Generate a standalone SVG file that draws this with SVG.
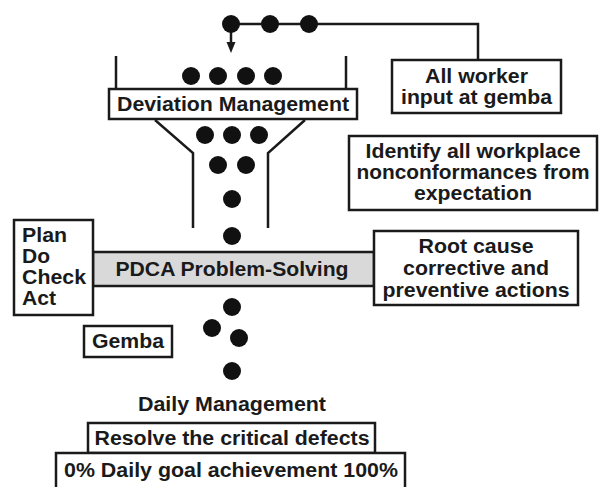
<svg xmlns="http://www.w3.org/2000/svg" width="606" height="487" viewBox="0 0 606 487">
<defs>
<style>
text{font-family:"Liberation Sans",Arial,Helvetica,sans-serif;font-weight:bold;font-size:20px;fill:#1a1a1a}
.c{text-anchor:middle}
.box{fill:#fff;stroke:#1a1a1a;stroke-width:2.5}
.bar{fill:#d9d9d9;stroke:#1a1a1a;stroke-width:2.5}
.ln{fill:none;stroke:#1a1a1a;stroke-width:2.5}
.dot{fill:#111}
</style>
</defs>
<rect width="606" height="487" fill="#fff"/>

<g id="connectors">
<polyline class="ln" points="231,24 478,24 478,60"/>
<line class="ln" x1="231" y1="24" x2="231" y2="44"/>
<path d="M226.5,42 L235.5,42 L231,53 Z" fill="#1a1a1a"/>
</g>

<g id="funnel">
<polyline class="ln" points="116,56 116,89"/>
<polyline class="ln" points="346,56 346,89"/>
<polyline class="ln" points="155,120 193,153 193,228"/>
<polyline class="ln" points="305,120 268,153 268,228"/>
</g>

<g id="dots">
<circle class="dot" cx="231" cy="24" r="9"/>
<circle class="dot" cx="270" cy="24" r="9"/>
<circle class="dot" cx="309" cy="24" r="9"/>
<circle class="dot" cx="191" cy="76" r="9"/>
<circle class="dot" cx="218" cy="76" r="9"/>
<circle class="dot" cx="246" cy="76" r="9"/>
<circle class="dot" cx="273" cy="76" r="9"/>
<circle class="dot" cx="205" cy="135" r="9"/>
<circle class="dot" cx="232" cy="135" r="9"/>
<circle class="dot" cx="259" cy="135" r="9"/>
<circle class="dot" cx="218" cy="165" r="9"/>
<circle class="dot" cx="246" cy="165" r="9"/>
<circle class="dot" cx="232" cy="199" r="9"/>
<circle class="dot" cx="232" cy="236" r="9"/>
<circle class="dot" cx="232" cy="307" r="9"/>
<circle class="dot" cx="212" cy="328" r="9"/>
<circle class="dot" cx="239" cy="338" r="9"/>
<circle class="dot" cx="232" cy="371" r="9"/>
</g>

<g id="all-worker">
<rect class="box" x="392" y="60" width="169" height="53"/>
<text class="c" x="476.5" y="83" textLength="103" lengthAdjust="spacingAndGlyphs">All worker</text>
<text class="c" x="476.5" y="104" textLength="151" lengthAdjust="spacingAndGlyphs">input at gemba</text>
</g>

<g id="deviation-management">
<rect class="box" x="109" y="89" width="248" height="30"/>
<text class="c" x="233" y="111" textLength="232" lengthAdjust="spacingAndGlyphs">Deviation Management</text>
</g>

<g id="identify">
<rect class="box" x="349" y="136" width="248" height="74"/>
<text class="c" x="473" y="158" textLength="215" lengthAdjust="spacingAndGlyphs">Identify all workplace</text>
<text class="c" x="473" y="179" textLength="233" lengthAdjust="spacingAndGlyphs">nonconformances from</text>
<text class="c" x="473" y="200" textLength="118" lengthAdjust="spacingAndGlyphs">expectation</text>
</g>

<g id="pdca">
<rect class="bar" x="93" y="252" width="281" height="34"/>
<text class="c" x="232" y="276" textLength="233" lengthAdjust="spacingAndGlyphs">PDCA Problem-Solving</text>
</g>

<g id="plan-do-check-act">
<rect class="box" x="14" y="220" width="79" height="95"/>
<text x="22" y="242" textLength="45" lengthAdjust="spacingAndGlyphs">Plan</text>
<text x="22" y="263" textLength="28" lengthAdjust="spacingAndGlyphs">Do</text>
<text x="22" y="284" textLength="64" lengthAdjust="spacingAndGlyphs">Check</text>
<text x="22" y="305" textLength="34" lengthAdjust="spacingAndGlyphs">Act</text>
</g>

<g id="root-cause">
<rect class="box" x="374" y="231" width="204" height="74"/>
<text class="c" x="476" y="253" textLength="115" lengthAdjust="spacingAndGlyphs">Root cause</text>
<text class="c" x="476" y="275" textLength="146" lengthAdjust="spacingAndGlyphs">corrective and</text>
<text class="c" x="476" y="297" textLength="187" lengthAdjust="spacingAndGlyphs">preventive actions</text>
</g>

<g id="gemba">
<rect class="box" x="84" y="326" width="88" height="31"/>
<text class="c" x="128" y="348" textLength="72" lengthAdjust="spacingAndGlyphs">Gemba</text>
</g>

<g id="daily-management">
<text class="c" x="232" y="411" textLength="188" lengthAdjust="spacingAndGlyphs">Daily Management</text>
</g>

<g id="resolve">
<rect class="box" x="88" y="423" width="287" height="30"/>
<text class="c" x="232" y="445" textLength="275" lengthAdjust="spacingAndGlyphs">Resolve the critical defects</text>
</g>

<g id="goal">
<rect class="box" x="56" y="453" width="349" height="40"/>
<text class="c" x="231" y="477" textLength="334" lengthAdjust="spacingAndGlyphs">0% Daily goal achievement 100%</text>
</g>
</svg>
